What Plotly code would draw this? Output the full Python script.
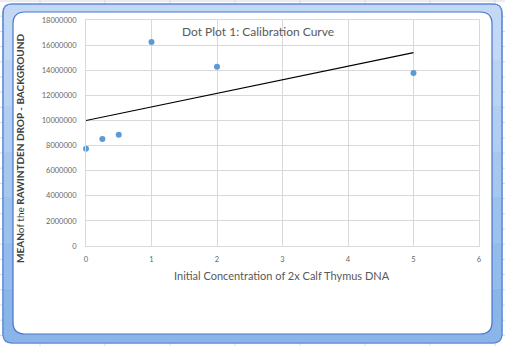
import numpy as np
import plotly.graph_objects as go

# ---- data ----
concentration = [0, 0.25, 0.5, 1, 2, 5]
mean_intden = [7750000, 8520000, 8860000, 16250000, 14270000, 13780000]
x_ticks = [0, 1, 2, 3, 4, 5, 6]
y_ticks = [0, 2000000, 4000000, 6000000, 8000000, 10000000, 12000000,
           14000000, 16000000, 18000000]

title_text = "Dot Plot 1: Calibration Curve"
x_title = "Initial Concentration of 2x Calf Thymus DNA"
y_title = "<b>MEAN</b>of the <b>RAWINTDEN DROP - BACKGROUND</b>"

# linear trendline (least squares, as Excel does)
slope, intercept = np.polyfit(concentration, mean_intden, 1)
trend_x = [min(concentration), max(concentration)]
trend_y = [intercept + slope * v for v in trend_x]

# ---- layout geometry (pixels) ----
W, H = 505, 346
L, R, T, B = 86, 26, 20, 100
PW, PH = W - L - R, H - T - B


def px(X):
    return (X - L) / PW


def py(Y):
    return (H - B - Y) / PH


def rrect(x0, y0, x1, y1, r):
    pts = [
        f"M {px(x0 + r)},{py(y0)}",
        f"L {px(x1 - r)},{py(y0)}",
        f"Q {px(x1)},{py(y0)} {px(x1)},{py(y0 + r)}",
        f"L {px(x1)},{py(y1 - r)}",
        f"Q {px(x1)},{py(y1)} {px(x1 - r)},{py(y1)}",
        f"L {px(x0 + r)},{py(y1)}",
        f"Q {px(x0)},{py(y1)} {px(x0)},{py(y1 - r)}",
        f"L {px(x0)},{py(y0 + r)}",
        f"Q {px(x0)},{py(y0)} {px(x0 + r)},{py(y0)}",
        "Z",
    ]
    return " ".join(pts)


def rect(x0, y0, x1, y1, color):
    return dict(type="rect", xref="paper", yref="paper", layer="below",
                x0=px(x0), x1=px(x1), y0=py(y1), y1=py(y0),
                fillcolor=color, line=dict(width=0))


shapes = []
# spreadsheet cell lines
for X in range(40, W + 1, 65):
    shapes.append(dict(type="line", xref="paper", yref="paper", layer="below",
                       x0=px(X), x1=px(X), y0=py(0), y1=py(H),
                       line=dict(color="#d6d8da", width=1)))
Y = 1.0
while Y < H:
    shapes.append(dict(type="line", xref="paper", yref="paper", layer="below",
                       x0=px(0), x1=px(W), y0=py(Y), y1=py(Y),
                       line=dict(color="#d6d8da", width=1)))
    Y += 15.2
# blue selection frame (light at top, gradually darker towards the bottom)
shapes.append(dict(type="path", xref="paper", yref="paper", layer="below",
                   path=rrect(3, 4, 502, 343, 9),
                   fillcolor="#c2d8f5", line=dict(color="#5f8ad8", width=1.2)))
band_cols = ["#bad3f3", "#b1cdf1", "#a7c7ef", "#9dc1ed", "#93bbeb", "#8ab5e9"]
n = len(band_cols)
y_start, y_end = 60, 334
step = (y_end - y_start) / n
for i, c in enumerate(band_cols):
    ya, yb = y_start + i * step, y_start + (i + 1) * step
    shapes.append(rect(3.6, ya, 13, yb, c))
    shapes.append(rect(492, ya, 501.4, yb, c))
shapes.append(dict(type="path", xref="paper", yref="paper", layer="below",
                   path=rrect(3.6, 300, 501.4, 342.4, 8),
                   fillcolor="#8ab5e9", line=dict(width=0)))
shapes.append(dict(type="path", xref="paper", yref="paper", layer="below",
                   path=rrect(3, 4, 502, 343, 9),
                   fillcolor="rgba(0,0,0,0)", line=dict(color="#5f8ad8", width=1.2)))
# white chart area
shapes.append(dict(type="path", xref="paper", yref="paper", layer="below",
                   path=rrect(13, 12, 492, 334, 12),
                   fillcolor="white", line=dict(color="#4a74c8", width=1.2)))

fig = go.Figure()
fig.add_trace(go.Scatter(
    x=trend_x, y=trend_y, mode="lines",
    line=dict(color="black", width=1.2), hoverinfo="skip", showlegend=False))
fig.add_trace(go.Scatter(
    x=concentration, y=mean_intden, mode="markers",
    marker=dict(color="#5b9bd5", size=6), cliponaxis=False, showlegend=False))

font = "Lato, 'Open Sans', sans-serif"
grid = "#d9d9d9"
fig.update_layout(
    width=W, height=H,
    margin=dict(l=L, r=R, t=T, b=B),
    paper_bgcolor="#ffffff",
    plot_bgcolor="rgba(0,0,0,0)",
    shapes=shapes,
    font=dict(family=font, color="#595959"),
    xaxis=dict(range=[0, 6], tickvals=x_ticks, ticktext=[str(v) for v in x_ticks],
               showgrid=True, gridcolor=grid, gridwidth=1, zeroline=False,
               showline=True, linecolor=grid, mirror=True,
               ticks="", ticklabelstandoff=6,
               tickfont=dict(size=7.5, color="#666666", family=font)),
    yaxis=dict(range=[0, 18000000], tickvals=y_ticks,
               ticktext=[str(v) for v in y_ticks],
               showgrid=True, gridcolor=grid, gridwidth=1, zeroline=False,
               showline=True, linecolor=grid, mirror=True,
               ticks="", ticklabelstandoff=7,
               tickfont=dict(size=7.5, color="#666666", family=font)),
    annotations=[
        dict(text=title_text, xref="paper", yref="paper", x=px(258), y=py(32),
             showarrow=False, xanchor="center", yanchor="middle",
             font=dict(size=12, color="#595959", family=font)),
        dict(text=x_title, xref="paper", yref="paper", x=px(282), y=py(275),
             showarrow=False, xanchor="center", yanchor="middle",
             font=dict(size=11, color="#595959", family=font)),
        dict(text=y_title, xref="paper", yref="paper", x=px(20), y=py(148),
             showarrow=False, xanchor="center", yanchor="middle", textangle=-90,
             font=dict(size=10, color="#404040", family=font)),
    ],
)

fig.write_html("out.html")
